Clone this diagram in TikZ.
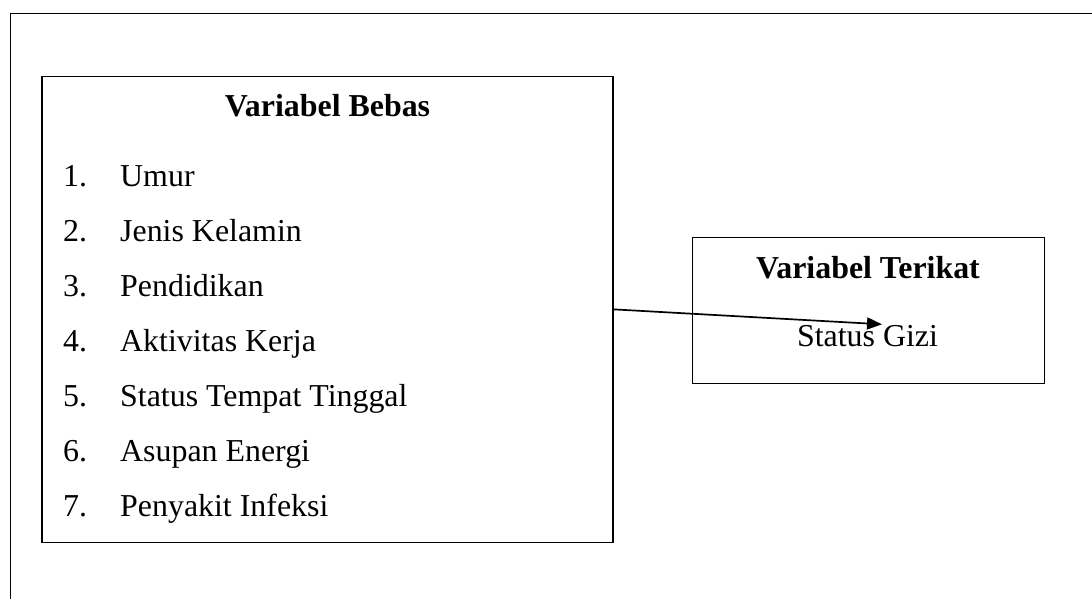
\documentclass[tikz,border=0pt]{standalone}
\usepackage{fontspec}
\setmainfont{Liberation Serif}
\usetikzlibrary{arrows.meta}
\tikzset{
  frame/.style={draw=black, line width=1.5pt, inner sep=0pt, outer sep=0pt},
  item/.style={anchor=base west, inner sep=0pt, font=\fontsize{31.9}{38}\selectfont},
  head/.style={anchor=base, inner sep=0pt, font=\fontsize{31.9}{38}\selectfont\bfseries},
  body/.style={anchor=base, inner sep=0pt, font=\fontsize{31.9}{38}\selectfont},
  link/.style={line width=1.7pt, -{Triangle[length=15pt,width=12pt]}}
}
\begin{document}
\begin{tikzpicture}[x=1pt,y=-1pt]
\useasboundingbox (0,0) rectangle (1092,599);
\clip (0,0) rectangle (1092,599);
% outer frame (extends beyond the visible area)
\node[frame, minimum width=1200pt, minimum height=700pt, anchor=north west] (outer) at (10.3,13.3) {};
% left box
\node[frame, minimum width=571pt, minimum height=466pt, anchor=north west] (lb) at (41.8,76.7) {};
\node[head] (lbt) at (327.5,116.5) {Variabel Bebas};
\node[item] (n1) at (63,186) {1.};  \node[item] (t1) at (120,186) {Umur};
\node[item] (n2) at (63,241) {2.};  \node[item] (t2) at (120,241) {Jenis Kelamin};
\node[item] (n3) at (63,296) {3.};  \node[item] (t3) at (120,296) {Pendidikan};
\node[item] (n4) at (63,351) {4.};  \node[item] (t4) at (120,351) {Aktivitas Kerja};
\node[item] (n5) at (63,406.5) {5.};  \node[item] (t5) at (120,406.5) {Status Tempat Tinggal};
\node[item] (n6) at (63,461.5) {6.};  \node[item] (t6) at (120,461.5) {Asupan Energi};
\node[item] (n7) at (63,516.3) {7.};  \node[item] (t7) at (120,516.3) {Penyakit Infeksi};
% right box
\node[frame, minimum width=352pt, minimum height=146pt, anchor=north west] (rb) at (692.3,237.3) {};
\node[head] (rbt) at (868,278.3) {Variabel Terikat};
\node[body] (rbs) at (867.5,346) {Status Gizi};
% connector
\coordinate (from) at (612.3,309.3);
\coordinate (tip) at (882,324.3);
\draw[link] (from) -- (tip);
\end{tikzpicture}
\end{document}
